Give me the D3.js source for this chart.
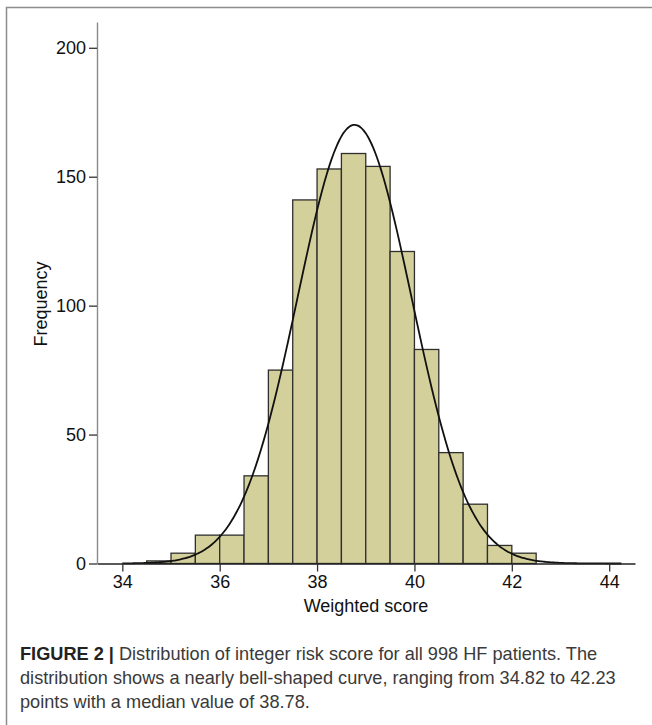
<!DOCTYPE html>
<html>
<head>
<meta charset="utf-8">
<script src="https://cdn.jsdelivr.net/npm/d3@7"></script>
<style>
  body { margin: 0; background: #fff; }
  svg { display: block; }
  .axis text { font-family: "Liberation Sans", Arial, sans-serif; font-size: 18px; fill: #111; }
  .caption { font-family: "Liberation Sans", Arial, sans-serif; font-size: 18px; fill: #3a3a3a; }
</style>
</head>
<body>
<div class="histo"></div>
<script>
// histogram bins (lower edge of each 0.5 wide bin) and the counts
const binStarts = [34.5, 35, 35.5, 36, 36.5, 37, 37.5, 38, 38.5, 39, 39.5, 40, 40.5, 41, 41.5, 42];
const counts = [1, 4, 11, 11, 34, 75, 141, 153, 159, 154, 121, 83, 43, 23, 7, 4];
const binWidth = 0.5;
const xTicks = [34, 36, 38, 40, 42, 44];
const yTicks = [0, 50, 100, 150, 200];
// fitted normal curve parameters
const meanScore = 38.77, sdScore = 1.17, nPatients = 998;
const captionLines = [
  "Distribution of integer risk score for all 998 HF patients. The",
  "distribution shows a nearly bell-shaped curve, ranging from 34.82 to 42.23",
  "points with a median value of 38.78."
];

let outerWidth = 652, outerHeight = 725;
let svg = d3.select('.histo').append('svg')
  .attr('width', outerWidth)
  .attr('height', outerHeight);

// frame (top + left edge)
svg.append('path')
  .attr('d', 'M6.5,725 L6.5,7.5 L652,7.5')
  .attr('fill', 'none')
  .attr('stroke', '#8c8c8c')
  .attr('stroke-width', 1.5);

const xScale = d3.scaleLinear().domain([33.48, 44.53]).range([97, 635]);
const yScale = d3.scaleLinear().domain([0, 210]).range([563.5, 22]);

let data = binStarts.map((b, i) => ({x0: b, x1: b + binWidth, n: counts[i]}));

svg.selectAll('rect.bar')
  .data(data)
  .enter()
  .append('rect')
  .attr('class', 'bar')
  .attr('x', d => xScale(d.x0))
  .attr('y', d => yScale(d.n))
  .attr('width', d => xScale(d.x1) - xScale(d.x0))
  .attr('height', d => yScale(0) - yScale(d.n))
  .attr('fill', '#d4d09b')
  .attr('stroke', '#2f2f2f')
  .attr('stroke-width', 1.3);

// normal curve scaled to counts per bin
const pdf = x => Math.exp(-0.5 * ((x - meanScore) / sdScore) ** 2) / (sdScore * Math.sqrt(2 * Math.PI));
const curvePts = d3.range(34.0, 44.3, 0.05).map(x => [x, nPatients * binWidth * pdf(x)]);
svg.append('path')
  .datum(curvePts)
  .attr('fill', 'none')
  .attr('stroke', '#111')
  .attr('stroke-width', 1.8)
  .attr('d', d3.line().x(d => xScale(d[0])).y(d => yScale(d[1])).curve(d3.curveBasis));

// axes
let xAxis = svg.append('g')
  .attr('class', 'axis x-axis')
  .attr('transform', `translate(0, ${yScale(0)})`)
  .call(d3.axisBottom(xScale).tickValues(xTicks).tickSizeInner(8).tickSizeOuter(0).tickPadding(4));
xAxis.select('.domain').attr('stroke', '#222').attr('stroke-width', 1.4);
xAxis.selectAll('.tick line').attr('stroke', '#333').attr('stroke-width', 1.3);

let yAxis = svg.append('g')
  .attr('class', 'axis y-axis')
  .attr('transform', `translate(${xScale.range()[0]}, 0)`)
  .call(d3.axisLeft(yScale).tickValues(yTicks).tickSizeInner(8).tickSizeOuter(0).tickPadding(3));
yAxis.select('.domain').attr('stroke', '#8a8a8a').attr('stroke-width', 1.4);
yAxis.selectAll('.tick line').attr('stroke', '#333').attr('stroke-width', 1.3);

svg.append('text')
  .attr('x', 366)
  .attr('y', 612)
  .attr('text-anchor', 'middle')
  .style('font-family', '"Liberation Sans", Arial, sans-serif')
  .style('font-size', '18px')
  .attr('fill', '#111')
  .text('Weighted score');

svg.append('text')
  .attr('transform', 'translate(47, 304) rotate(-90)')
  .attr('text-anchor', 'middle')
  .style('font-family', '"Liberation Sans", Arial, sans-serif')
  .style('font-size', '18px')
  .attr('fill', '#111')
  .text('Frequency');

// caption: narrow the font uniformly so line 2 spans the same width as the original
let capG = svg.append('g');
let cap1 = capG.append('text').attr('class', 'caption').attr('x', 0).attr('y', 660);
cap1.append('tspan').attr('font-weight', 'bold').attr('fill', '#222').text('FIGURE 2 | ');
cap1.append('tspan').text(captionLines[0]);
let cap2 = capG.append('text').attr('class', 'caption').attr('x', 0).attr('y', 684).text(captionLines[1]);
capG.append('text').attr('class', 'caption').attr('x', 0).attr('y', 708).text(captionLines[2]);

let squeeze = 596 / cap2.node().getComputedTextLength();
capG.attr('transform', `translate(20,0) scale(${squeeze},1)`);
</script>
</body>
</html>
